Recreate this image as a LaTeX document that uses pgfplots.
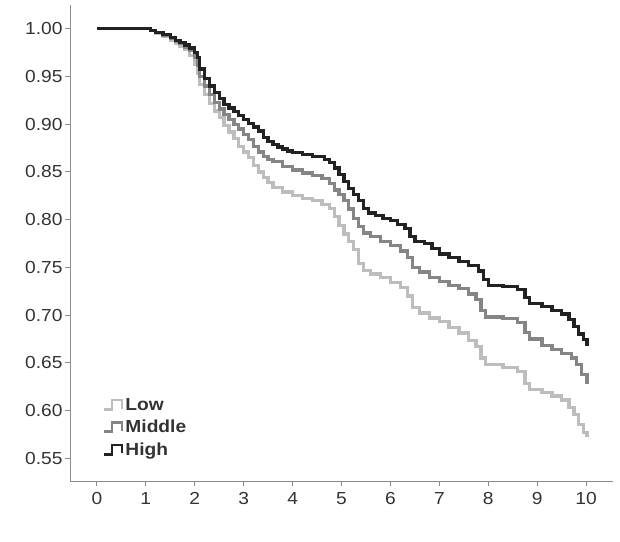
\documentclass[border=0pt]{standalone}
\usepackage{pgfplots}
\pgfplotsset{compat=1.18}
\usepackage{pgfplotstable}
\usepackage{fontspec}
\setmainfont[FakeStretch=1.1]{Liberation Sans}
\definecolor{lowc}{HTML}{BDBDBD}
\definecolor{midc}{HTML}{858585}
\definecolor{highc}{HTML}{222222}
\definecolor{axc}{HTML}{8C8C8C}
\definecolor{txc}{HTML}{333333}

\pgfplotstableread{
x y
0 1.000
1.0 1.000
1.1 0.998
1.2 0.995
1.35 0.992
1.5 0.988
1.6 0.985
1.7 0.982
1.8 0.978
1.9 0.972
2.0 0.963
2.05 0.953
2.1 0.942
2.2 0.931
2.3 0.922
2.4 0.914
2.5 0.907
2.6 0.899
2.7 0.892
2.8 0.885
2.9 0.877
3.0 0.871
3.1 0.865
3.2 0.857
3.3 0.850
3.4 0.844
3.5 0.839
3.6 0.834
3.8 0.829
4.0 0.825
4.2 0.822
4.4 0.820
4.6 0.816
4.75 0.812
4.85 0.803
4.95 0.794
5.05 0.785
5.15 0.777
5.25 0.769
5.35 0.754
5.45 0.747
5.6 0.743
5.8 0.739
6.0 0.734
6.2 0.729
6.35 0.720
6.45 0.708
6.6 0.702
6.8 0.697
7.0 0.693
7.2 0.687
7.4 0.681
7.6 0.673
7.75 0.667
7.85 0.655
7.95 0.648
8.3 0.645
8.6 0.641
8.75 0.628
8.85 0.622
9.1 0.619
9.3 0.615
9.5 0.611
9.65 0.603
9.75 0.596
9.85 0.585
9.95 0.577
10.02 0.572
}\lowtab

\pgfplotstableread{
x y
0 1.000
1.0 1.000
1.1 0.998
1.2 0.996
1.35 0.993
1.5 0.990
1.6 0.987
1.7 0.985
1.8 0.981
1.9 0.977
2.0 0.970
2.05 0.962
2.1 0.950
2.2 0.940
2.3 0.931
2.4 0.923
2.5 0.916
2.6 0.910
2.7 0.905
2.8 0.900
2.9 0.895
3.0 0.889
3.1 0.884
3.2 0.877
3.3 0.871
3.4 0.866
3.5 0.863
3.6 0.861
3.8 0.856
4.0 0.852
4.2 0.849
4.4 0.846
4.6 0.843
4.75 0.838
4.85 0.831
4.95 0.826
5.05 0.820
5.15 0.811
5.25 0.801
5.35 0.793
5.45 0.786
5.6 0.782
5.8 0.777
6.0 0.773
6.2 0.767
6.35 0.760
6.45 0.750
6.6 0.745
6.8 0.739
7.0 0.735
7.2 0.731
7.4 0.728
7.6 0.722
7.75 0.716
7.85 0.705
7.95 0.698
8.3 0.696
8.6 0.692
8.75 0.682
8.85 0.675
9.1 0.668
9.3 0.664
9.5 0.660
9.7 0.655
9.8 0.648
9.9 0.638
10.02 0.628
}\midtab

\pgfplotstableread{
x y
0 1.000
1.0 1.000
1.1 0.998
1.2 0.996
1.35 0.994
1.5 0.991
1.6 0.988
1.7 0.986
1.8 0.983
1.9 0.980
2.0 0.975
2.05 0.970
2.1 0.958
2.2 0.948
2.3 0.940
2.4 0.933
2.5 0.927
2.6 0.921
2.7 0.917
2.8 0.913
2.9 0.909
3.0 0.905
3.1 0.901
3.2 0.897
3.3 0.893
3.4 0.886
3.5 0.882
3.6 0.879
3.7 0.876
3.8 0.874
3.9 0.872
4.0 0.870
4.2 0.868
4.4 0.866
4.55 0.866
4.65 0.863
4.75 0.860
4.85 0.854
4.95 0.847
5.05 0.840
5.15 0.833
5.25 0.826
5.35 0.820
5.45 0.812
5.55 0.807
5.7 0.804
5.85 0.801
6.0 0.799
6.15 0.795
6.3 0.791
6.4 0.782
6.5 0.777
6.7 0.775
6.85 0.770
7.0 0.764
7.2 0.760
7.4 0.756
7.6 0.752
7.8 0.746
7.9 0.737
8.0 0.731
8.3 0.730
8.6 0.727
8.75 0.718
8.85 0.712
9.1 0.709
9.3 0.705
9.5 0.701
9.65 0.695
9.75 0.688
9.85 0.680
9.95 0.674
10.02 0.668
}\hightab

\begin{document}
\begin{tikzpicture}
\begin{axis}[
  scale only axis,
  width=543bp, height=476bp,
  xmin=-0.55, xmax=10.55,
  ymin=0.526, ymax=1.025,
  axis lines*=left,
  axis line style={axc, line width=1pt},
  xtick={0,1,...,10},
  ytick={0.55,0.60,...,1.001},
  tick style={axc, line width=1pt},
  tick align=outside,
  major tick length=5bp,
  tick label style={font=\fontsize{17.5}{20}\selectfont, text=txc},
  /pgf/number format/assume math mode=true,
  yticklabel style={xshift=1bp, /pgf/number format/.cd, fixed, fixed zerofill, precision=2},
  xticklabel style={yshift=-3bp},
  legend cell align=left,
  legend style={draw=none, fill=none, at={(0.058,0.0437)}, anchor=south west,
    font=\fontsize{17.5}{19}\selectfont\bfseries, text=txc, row sep=4.5bp,
    inner sep=1bp},
  legend image code/.code={
    \draw[#1, line width=2.8pt] (0bp,-4.5bp) -- (8bp,-4.5bp) -- (8bp,5bp) -- (18bp,5bp) -- (18bp,-3.5bp);
  },
  every axis plot/.append style={line width=3.3pt, const plot mark left},
]
\addplot[lowc] table {\lowtab};
\addlegendentry{Low}
\addplot[midc] table {\midtab};
\addlegendentry{Middle}
\addplot[highc] table {\hightab};
\addlegendentry{High}
\end{axis}
\path (current axis.south west) ++(-70bp,-61bp) rectangle ++(620bp,542bp);
\end{tikzpicture}
\end{document}
